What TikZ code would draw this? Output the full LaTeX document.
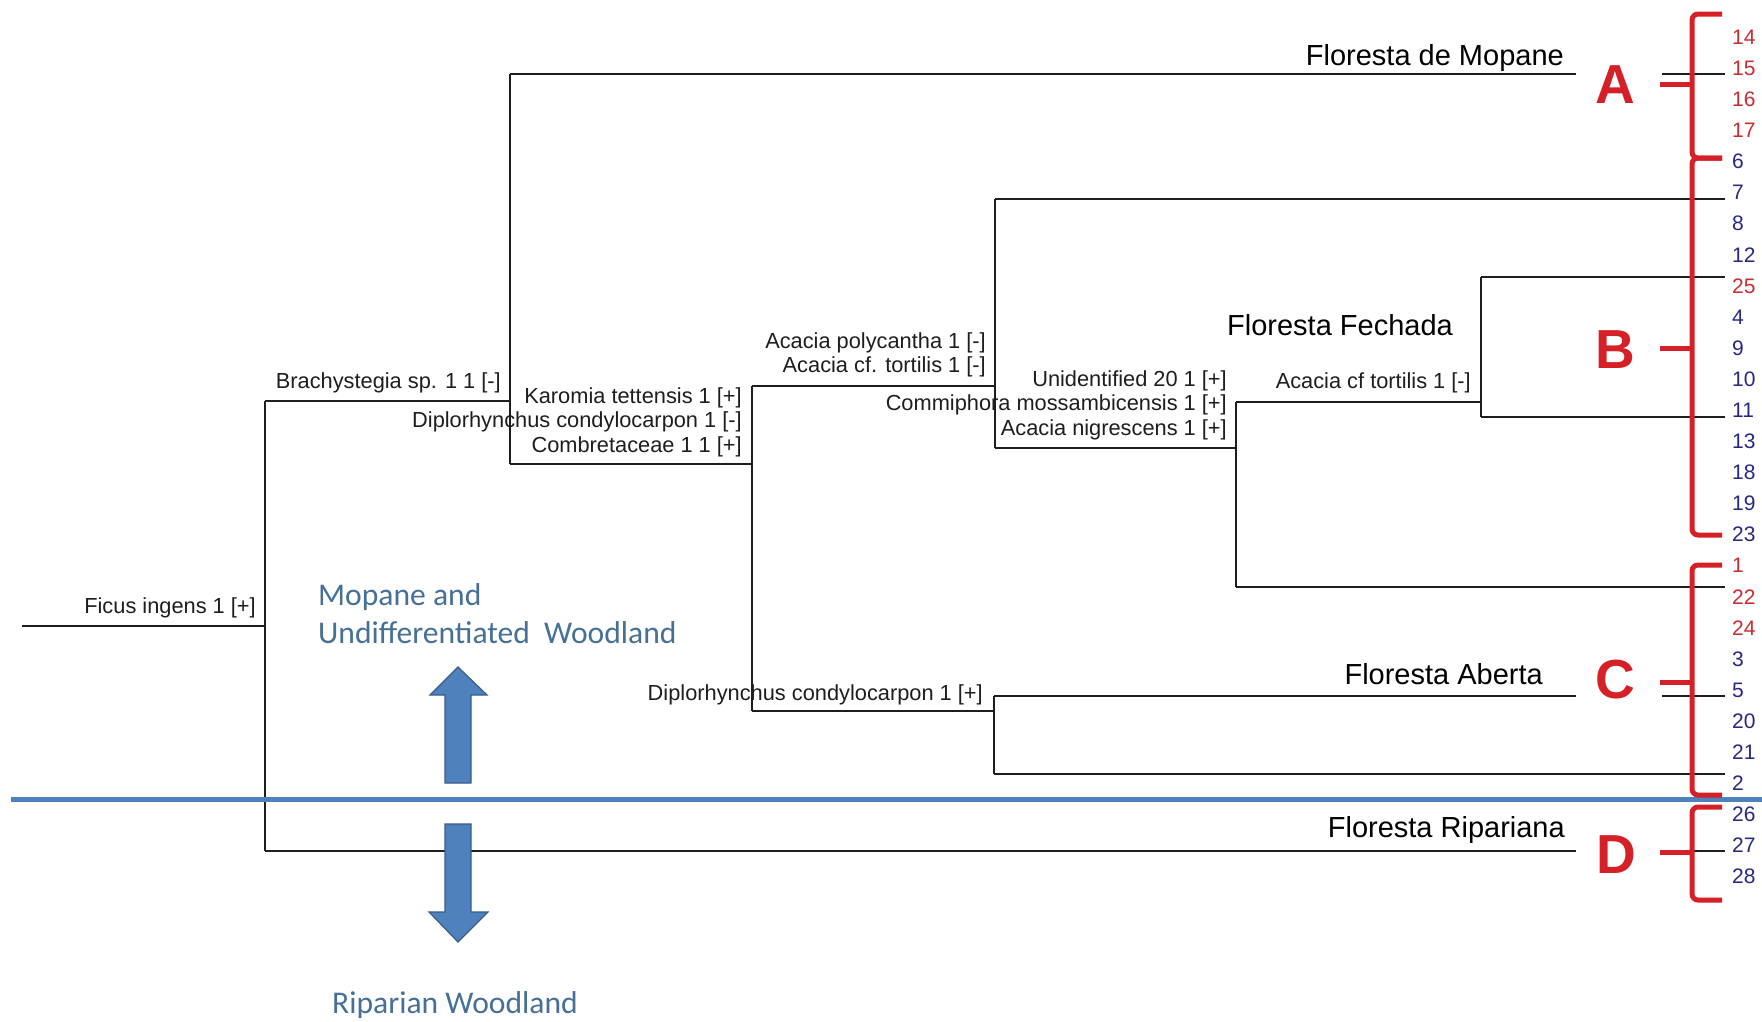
\documentclass[tikz,border=0pt]{standalone}
\usepackage{fontspec}
\setmainfont{Liberation Sans}
\newfontfamily\calibfont{Carlito}
\definecolor{lineblk}{RGB}{30,30,30}
\definecolor{bluebar}{RGB}{79,129,189}
\definecolor{bluedark}{RGB}{56,93,138}
\definecolor{bluetext}{RGB}{70,112,150}
\definecolor{redbr}{RGB}{212,32,38}
\definecolor{numred}{RGB}{200,45,50}
\definecolor{numblue}{RGB}{40,40,130}
\tikzset{
  tree/.style={draw=lineblk, line width=1.8pt},
  sp/.style={anchor=base east, inner sep=0pt, font=\fontsize{21.8}{24}\selectfont, text=lineblk},
  grp/.style={anchor=base east, inner sep=0pt, font=\fontsize{29}{32}\selectfont, text=black},
  bigletter/.style={anchor=center, inner sep=0pt, font=\fontsize{55}{60}\selectfont\bfseries, text=redbr},
  bracebr/.style={draw=redbr, line width=5pt, rounded corners=6pt},
  num/.style={anchor=west, inner sep=0pt, font=\fontsize{21}{23}\selectfont},
  bluelbl/.style={inner sep=0pt, font=\calibfont\fontsize{31.6}{34}\selectfont, text=bluetext},
  fatarrow/.style={fill=bluebar, draw=bluedark, line width=1.2pt, line join=miter}
}
\begin{document}
\begin{tikzpicture}[x=1pt,y=-1pt]
\useasboundingbox (0,0) rectangle (1762,1021);
\fill[white] (0,0) rectangle (1762,1021);

% ---- coordinates of the dendrogram ----
\coordinate (r0) at (22,626);
\coordinate (n0) at (265,626);
\coordinate (n0t) at (265,401);
\coordinate (n0b) at (265,851);
\coordinate (n1m) at (510,401);
\coordinate (n1t) at (510,74);
\coordinate (n1b) at (510,464);
\coordinate (lA) at (1576,74);
\coordinate (n2m) at (752,464);
\coordinate (n2t) at (752,386);
\coordinate (n2b) at (752,711);
\coordinate (n3m) at (995,386);
\coordinate (n3t) at (995,199);
\coordinate (n3b) at (995,448);
\coordinate (l7) at (1725,199);
\coordinate (n4m) at (1236,448);
\coordinate (n4t) at (1236,402);
\coordinate (n4b) at (1236,587);
\coordinate (l22) at (1725,587);
\coordinate (n5m) at (1481,402);
\coordinate (n5t) at (1481,277);
\coordinate (n5b) at (1481,417);
\coordinate (l25) at (1725,277);
\coordinate (l11) at (1725,417);
\coordinate (n6m) at (994,711);
\coordinate (n6t) at (994,696);
\coordinate (n6b) at (994,774);
\coordinate (lC) at (1576,696);
\coordinate (l2) at (1725,774);
\coordinate (lD) at (1576,851);
\coordinate (sA1) at (1662,74);  \coordinate (sA2) at (1725,74);
\coordinate (sC1) at (1662,696); \coordinate (sC2) at (1725,696);
\coordinate (sD1) at (1662,851); \coordinate (sD2) at (1725,851);

% ---- tree lines ----
\draw[tree] (r0) -- (n0);
\draw[tree] (n0t) -- (n0b);
\draw[tree] (n0t) -- (n1m);
\draw[tree] (n1t) -- (n1b);
\draw[tree] (n1t) -- (lA);
\draw[tree] (sA1) -- (sA2);
\draw[tree] (n1b) -- (n2m);
\draw[tree] (n2t) -- (n2b);
\draw[tree] (n2t) -- (n3m);
\draw[tree] (n3t) -- (n3b);
\draw[tree] (n3t) -- (l7);
\draw[tree] (n3b) -- (n4m);
\draw[tree] (n4t) -- (n4b);
\draw[tree] (n4b) -- (l22);
\draw[tree] (n4t) -- (n5m);
\draw[tree] (n5t) -- (n5b);
\draw[tree] (n5t) -- (l25);
\draw[tree] (n5b) -- (l11);
\draw[tree] (n2b) -- (n6m);
\draw[tree] (n6t) -- (n6b);
\draw[tree] (n6t) -- (lC);
\draw[tree] (sC1) -- (sC2);
\draw[tree] (n6b) -- (l2);
\draw[tree] (n0b) -- (lD);
\draw[tree] (sD1) -- (sD2);

% ---- species labels ----
\node[sp] (ficus) at (256,613) {Ficus ingens 1 [+]};
\node[sp] (brach) at (501,388) {Brachystegia sp. 1 1 [-]};
\node[sp] (karo) at (742,403) {Karomia tettensis 1 [+]};
\node[sp] (dipm) at (742,427) {Diplorhynchus condylocarpon 1 [-]};
\node[sp] (comb) at (742,452) {Combretaceae 1 1 [+]};
\node[sp] (poly) at (986,348) {Acacia polycantha 1 [-]};
\node[sp] (tort) at (986,372) {Acacia cf. tortilis 1 [-]};
\node[sp] (unid) at (1227,386) {Unidentified 20 1 [+]};
\node[sp] (comm) at (1227,410) {Commiphora mossambicensis 1 [+]};
\node[sp] (nigr) at (1227,435) {Acacia nigrescens 1 [+]};
\node[sp] (tort2) at (1471,388) {Acacia cf tortilis 1 [-]};
\node[sp] (dipp) at (983,700) {Diplorhynchus condylocarpon 1 [+]};

% ---- group labels ----
\node[grp] (gA) at (1564,65) {Floresta de Mopane};
\node[grp] (gB) at (1453,335) {Floresta Fechada};
\node[grp] (gC) at (1543,684) {Floresta Aberta};
\node[grp] (gD) at (1565,837) {Floresta Ripariana};

% ---- blue separator and arrows ----
\draw[draw=bluebar, line width=5pt] (11,799) -- (1762,799);
\draw[fatarrow] (445,783) -- (445,695) -- (430,695) -- (458,667) -- (487,695) -- (471,695) -- (471,783) -- cycle;
\draw[fatarrow] (445,824) -- (471,824) -- (471,912) -- (488,912) -- (458,942) -- (429,912) -- (445,912) -- cycle;
\node[bluelbl, anchor=base west] (mop1) at (318,605) {Mopane and};
\node[bluelbl, anchor=base west] (mop2) at (318,643) {Undifferentiated\ \ Woodland};
\node[bluelbl, anchor=base] (rip) at (455,1013) {Riparian Woodland};

% ---- red brackets ----
\draw[bracebr] (1722,14) -- (1692,14) -- (1692,158) -- (1722,158);
\draw[bracebr] (1722,158) -- (1692,158) -- (1692,535) -- (1722,535);
\draw[bracebr] (1722,565) -- (1692,565) -- (1692,795) -- (1722,795);
\draw[bracebr] (1722,807) -- (1692,807) -- (1692,900) -- (1722,900);
\draw[draw=redbr, line width=5pt] (1660,84) -- (1692,84);
\draw[draw=redbr, line width=5pt] (1660,348) -- (1692,348);
\draw[draw=redbr, line width=5pt] (1660,682) -- (1692,682);
\draw[draw=redbr, line width=5pt] (1660,852) -- (1692,852);
\node[bigletter] (A) at (1615,85) {A};
\node[bigletter] (B) at (1615,350) {B};
\node[bigletter] (C) at (1615,680) {C};
\node[bigletter] (D) at (1616,855) {D};

% ---- site numbers ----
\foreach \n/\c [count=\i from 0] in {14/numred,15/numred,16/numred,17/numred,6/numblue,7/numblue,8/numblue,12/numblue,25/numred,4/numblue,9/numblue,10/numblue,11/numblue,13/numblue,18/numblue,19/numblue,23/numblue,1/numred,22/numred,24/numred,3/numblue,5/numblue,20/numblue,21/numblue,2/numblue,26/numblue,27/numblue,28/numblue}
  \node[num, text=\c] (site\n) at (1732,{37+31.1*\i}) {\n};
\end{tikzpicture}
\end{document}
